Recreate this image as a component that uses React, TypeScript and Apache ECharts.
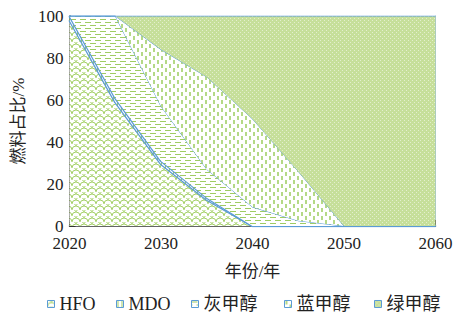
import React, { useEffect, useRef } from "react";
import * as echarts from "echarts";

const years = ["2020", "2025", "2030", "2035", "2040", "2045", "2050", "2055", "2060"];
const hfo = [98, 59, 29.5, 12.5, 0, 0, 0, 0, 0];
const mdo = [2, 2, 1.5, 1, 0, 0, 0, 0, 0];
const grayMeOH = [0, 39, 26, 13.5, 9, 2.5, 0, 0, 0];
const blueMeOH = [0, 0, 27, 44, 42, 23.5, 0, 0, 0];
const greenMeOH = [0, 0, 16, 29, 49, 74, 100, 100, 100];
const seriesNames = ["HFO", "MDO", "灰甲醇", "蓝甲醇", "绿甲醇"];
const yTicks = { min: 0, max: 100, interval: 20 };

const FONT = "'Liberation Serif', 'Noto Sans CJK SC', serif";
const LINE = "#5b9bd5";
const DASH = "#9fcc62";

function makeTileUrl(w: number, h: number, draw: (c: CanvasRenderingContext2D) => void) {
  const cv = document.createElement("canvas");
  cv.width = w;
  cv.height = h;
  const c = cv.getContext("2d")!;
  draw(c);
  return { url: cv.toDataURL(), w, h };
}
function pat(t: { url: string; w: number; h: number }) {
  return { image: t.url, repeat: "repeat", imageWidth: t.w, imageHeight: t.h } as any;
}

export default function App() {
  const ref = useRef<HTMLDivElement>(null);
  useEffect(() => {
    const scale = makeTileUrl(8, 6, (c) => {
      c.fillStyle = "#ffffff";
      c.fillRect(0, 0, 8, 6);
      c.strokeStyle = "#a6d16a";
      c.lineWidth = 1;
      c.beginPath();
      c.arc(4, 6, 4, Math.PI, 2 * Math.PI);
      c.stroke();
      c.beginPath();
      c.arc(0, 3, 4, Math.PI * 1.1, Math.PI * 1.9);
      c.stroke();
      c.beginPath();
      c.arc(8, 3, 4, Math.PI * 1.1, Math.PI * 1.9);
      c.stroke();
    });
    const vbars = makeTileUrl(4, 4, (c) => {
      c.fillStyle = "#ffffff";
      c.fillRect(0, 0, 4, 4);
      c.fillStyle = DASH;
      c.fillRect(1, 0, 1, 4);
    });
    const hdash = makeTileUrl(10, 6, (c) => {
      c.fillStyle = "#ffffff";
      c.fillRect(0, 0, 10, 6);
      c.fillStyle = DASH;
      c.fillRect(0, 1, 6, 1);
      c.fillRect(5, 4, 5, 1);
      c.fillRect(0, 4, 1, 1);
    });
    const vdash = makeTileUrl(8, 8, (c) => {
      c.fillStyle = "#ffffff";
      c.fillRect(0, 0, 8, 8);
      c.fillStyle = "#b4d986";
      c.fillRect(1, 0, 2, 4);
      c.fillRect(5, 4, 2, 4);
    });
    const green = makeTileUrl(4, 4, (c) => {
      c.fillStyle = "#c6df9a";
      c.fillRect(0, 0, 4, 4);
      c.fillStyle = "rgba(255,255,255,0.5)";
      c.fillRect(0, 0, 1, 1);
      c.fillRect(2, 2, 1, 1);
    });
    const tiles = [scale, vbars, hdash, vdash, green];
    const values = [hfo, mdo, grayMeOH, blueMeOH, greenMeOH];
    const widths = [2.5, 2.5, 1, 1, 1];
    const legendLeft = [47, 116, 191, 284, 374];
    const chart = echarts.init(ref.current!, null, { renderer: "svg" });
    chart.setOption({
      animation: false,
      backgroundColor: "#ffffff",
      grid: { left: 69.5, right: 28.5, top: 16, bottom: 89 },
      legend: seriesNames.map((n, i) => ({
        top: 295,
        left: legendLeft[i],
        padding: 0,
        icon: "rect",
        itemWidth: 7,
        itemHeight: 7,
        textStyle: { fontFamily: FONT, fontSize: 18, color: "#222" },
        data: [{ name: n, itemStyle: { color: pat(tiles[i]), borderColor: LINE, borderWidth: 1 } }],
      })),
      xAxis: {
        type: "category",
        data: years,
        boundaryGap: false,
        name: "年份/年",
        nameLocation: "middle",
        nameGap: 37,
        nameTextStyle: { fontFamily: FONT, fontSize: 17, color: "#222" },
        axisLine: { lineStyle: { color: "#333", width: 1.5 } },
        axisTick: { inside: true, length: 6, interval: 1, lineStyle: { color: "#333" } },
        axisLabel: { fontFamily: FONT, fontSize: 17, color: "#222", margin: 9, interval: 1 },
        splitLine: { show: false },
      },
      yAxis: [
        {
          type: "value",
          ...yTicks,
          name: "燃料占比/%",
          nameLocation: "middle",
          nameGap: 32,
          nameTextStyle: { fontFamily: FONT, fontSize: 17, color: "#222" },
          axisLine: { show: true, lineStyle: { color: "#333", width: 1.5 } },
          axisTick: { show: true, inside: true, length: 6, lineStyle: { color: "#333" } },
          axisLabel: { fontFamily: FONT, fontSize: 17, color: "#222", margin: 6 },
          splitLine: { show: false },
        },
        {
          type: "value",
          ...yTicks,
          position: "right",
          axisLine: { show: true, lineStyle: { color: "#8fb8e2", width: 1 } },
          axisTick: { show: false },
          axisLabel: { show: false },
          splitLine: { show: false },
        },
      ],
      series: seriesNames.map((n, i) => ({
        name: n,
        type: "line",
        stack: "total",
        yAxisIndex: 0,
        showSymbol: false,
        symbol: "none",
        data: values[i],
        lineStyle: { color: LINE, width: widths[i] },
        itemStyle: { color: LINE },
        areaStyle: { color: pat(tiles[i]), opacity: 1 },
        z: 2 + i,
      })),
    });
    return () => chart.dispose();
  }, []);
  return (
    <div
      ref={ref}
      style={{ position: "fixed", left: 0, top: 0, width: 464, height: 315, background: "#fff" }}
    />
  );
}
